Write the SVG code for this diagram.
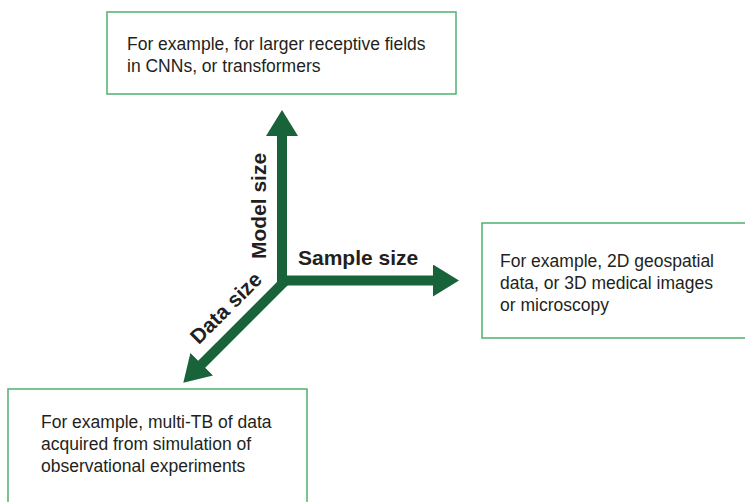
<svg xmlns="http://www.w3.org/2000/svg" width="745" height="502" viewBox="0 0 745 502">
  <style>
    .box { fill: #ffffff; stroke: #52b072; stroke-width: 1.5; }
    .txt { font-family: "Liberation Sans", Arial, sans-serif; font-size: 17.5px; fill: #231f20; }
    .lbl { font-family: "Liberation Sans", Arial, sans-serif; font-size: 21px; font-weight: bold; fill: #231f20; }
    .axis { stroke: #19633a; stroke-width: 10; fill: none; }
  </style>
  <defs>
    <marker id="head" viewBox="0 0 26 32" refX="1" refY="16" markerWidth="26" markerHeight="32" markerUnits="userSpaceOnUse" orient="auto">
      <path d="M0,0 L26,16 L0,32 z" fill="#19633a"/>
    </marker>
  </defs>
  <rect width="745" height="502" fill="#ffffff"/>

  <g id="connectors">
    <line class="axis" x1="282" y1="286" x2="282" y2="135" marker-end="url(#head)"/>
    <line class="axis" x1="277" y1="280.5" x2="434" y2="280.5" marker-end="url(#head)"/>
    <line class="axis" x1="285" y1="281" x2="201" y2="365" marker-end="url(#head)"/>
  </g>

  <g id="label-model">
    <text class="lbl" text-anchor="middle" transform="translate(266,206) rotate(-90)">Model size</text>
  </g>
  <g id="label-sample">
    <text class="lbl" x="298" y="265">Sample size</text>
  </g>
  <g id="label-data">
    <text class="lbl" text-anchor="middle" transform="translate(231,313) rotate(-45)">Data size</text>
  </g>

  <g id="node-model">
    <rect class="box" x="107" y="12" width="349" height="82"/>
    <text class="txt" x="127" y="50">For example, for larger receptive fields</text>
    <text class="txt" x="127" y="72">in CNNs, or transformers</text>
  </g>

  <g id="node-sample">
    <rect class="box" x="482" y="223" width="280" height="115"/>
    <text class="txt" x="500" y="267">For example, 2D geospatial</text>
    <text class="txt" x="500" y="289">data, or 3D medical images</text>
    <text class="txt" x="500" y="311">or microscopy</text>
  </g>

  <g id="node-data">
    <rect class="box" x="8" y="389" width="299" height="130"/>
    <text class="txt" x="41" y="428">For example, multi-TB of data</text>
    <text class="txt" x="41" y="450">acquired from simulation of</text>
    <text class="txt" x="41" y="472">observational experiments</text>
  </g>
</svg>
